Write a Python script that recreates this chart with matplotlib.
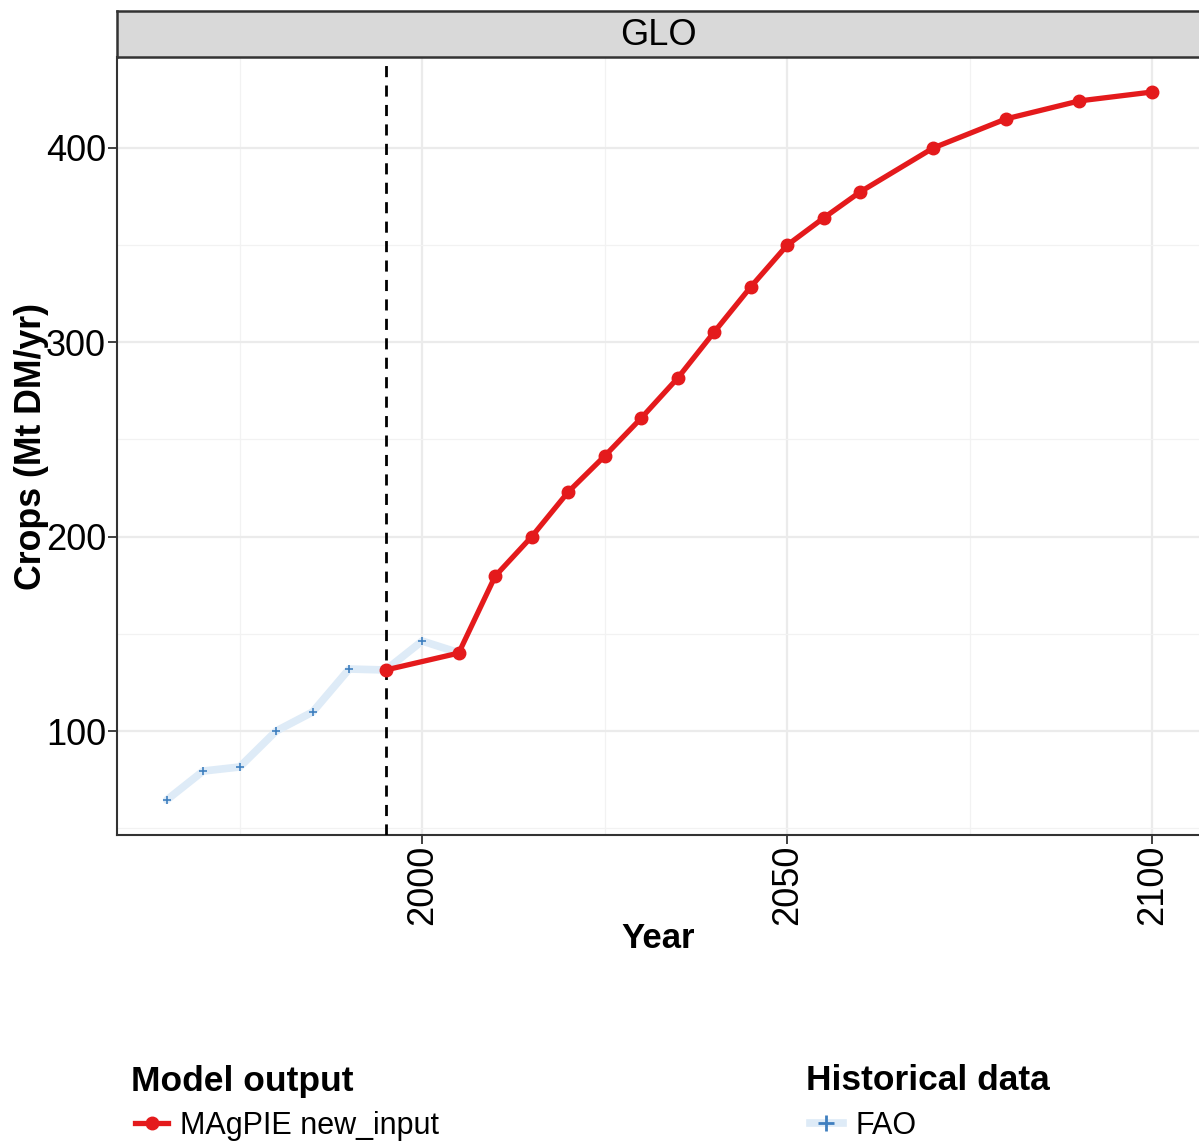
import matplotlib
matplotlib.use("Agg")
import matplotlib.pyplot as plt
from matplotlib.lines import Line2D
from matplotlib.ticker import MultipleLocator

plt.rcParams['font.family'] = ['Liberation Sans', 'DejaVu Sans']

fao_years = [1965, 1970, 1975, 1980, 1985, 1990, 1995, 2000, 2005]
fao_values = [64.5, 79.4, 81.5, 100.0, 109.8, 131.9, 131.4, 146.3, 140.3]

mag_years = [1995, 2005, 2010, 2015, 2020, 2025, 2030, 2035, 2040, 2045, 2050,
             2055, 2060, 2070, 2080, 2090, 2100]
mag_values = [131.4, 140.1, 179.7, 200.0, 223.0, 241.5, 261.0, 281.6, 305.3,
              328.5, 350.0, 364.0, 377.4, 400.0, 415.0, 424.2, 428.8]

W, H = 1199, 1144
fig = plt.figure(figsize=(W / 100, H / 100), dpi=100)
ax = fig.add_axes([117 / W, (H - 835) / H, (1199 - 117) / W, (835 - 57) / H])

ax.set_xlim(1958.2, 2106.4)
ax.set_ylim(46.5, 446.8)

ax.xaxis.set_major_locator(MultipleLocator(50))
ax.xaxis.set_minor_locator(MultipleLocator(25))
ax.yaxis.set_major_locator(MultipleLocator(100))
ax.yaxis.set_minor_locator(MultipleLocator(50))
ax.grid(which='major', color='#ebebeb', linewidth=1.6)
ax.grid(which='minor', color='#f2f2f2', linewidth=0.9)
ax.set_axisbelow(True)

ax.plot(fao_years, fao_values, color='#deebf7', linewidth=5.5, solid_capstyle='round', zorder=2)
ax.plot(fao_years, fao_values, linestyle='none', marker='+', color='#3f7fbf',
        markersize=6, markeredgewidth=1.2, zorder=3)
ax.axvline(1995, color='black', linestyle=(0, (4, 3)), linewidth=2, zorder=4)
ax.plot(mag_years, mag_values, color='#e41a1c', linewidth=3.8, marker='o',
        markersize=9, zorder=5)

for s in ['top', 'right']:
    ax.spines[s].set_visible(False)
for s in ['left', 'bottom']:
    ax.spines[s].set_color('#333333')
    ax.spines[s].set_linewidth(1.5)

ax.tick_params(axis='both', which='major', labelsize=26, color='#333333', length=6.5,
               width=1.3, labelcolor='black', pad=1.5)
ax.tick_params(axis='x', pad=0.5)
ax.tick_params(axis='both', which='minor', length=0)
ax.tick_params(axis='x', labelrotation=90)
ax.set_xticks([2000, 2050, 2100])
ax.set_xticklabels(['2000', '2050', '2100'], va='top')

ax.set_xlabel('Year', fontsize=25, fontweight='bold', va='center')
ax.xaxis.set_label_coords(0.5, -(938 - 835) / 778)
ax.set_ylabel('Crops (Mt DM/yr)', fontsize=25.7, fontweight='bold', va='center')
ax.yaxis.set_label_coords(-(117 - 32) / 1082, 0.5)

# facet strip
sax = fig.add_axes([117 / W, (H - 57) / H, (1199 - 117) / W, 46 / H])
sax.set_facecolor('#d9d9d9')
sax.set_xticks([])
sax.set_yticks([])
for s in sax.spines.values():
    s.set_color('#333333')
    s.set_linewidth(1.8)
sax.spines['right'].set_visible(False)
sax.text(0.5, 0.46, 'GLO', ha='center', va='center', fontsize=26, transform=sax.transAxes)

# legends
fig.text(131 / W, 1 - 1081 / H, 'Model output', fontsize=25.5, fontweight='bold', va='center')
fig.text(806 / W, 1 - 1081 / H, 'Historical data', fontsize=25.5, fontweight='bold', va='center')

yl = 1 - 1123 / H
ylt = 1 - 1126 / H
fig.add_artist(Line2D([135 / W, 168 / W], [yl, yl], color='#e41a1c', linewidth=3.8))
fig.add_artist(Line2D([152 / W], [yl], color='#e41a1c', marker='o', markersize=9))
fig.text(180 / W, ylt, 'MAgPIE new_input', fontsize=22, va='center')

fig.add_artist(Line2D([810 / W, 843 / W], [yl, yl], color='#deebf7', linewidth=5.5))
fig.add_artist(Line2D([826 / W], [yl], color='#3f7fbf', marker='+', markersize=11,
                      markeredgewidth=2))
fig.text(855 / W, ylt, 'FAO', fontsize=22, va='center')

fig.savefig('out.png', dpi=100)
